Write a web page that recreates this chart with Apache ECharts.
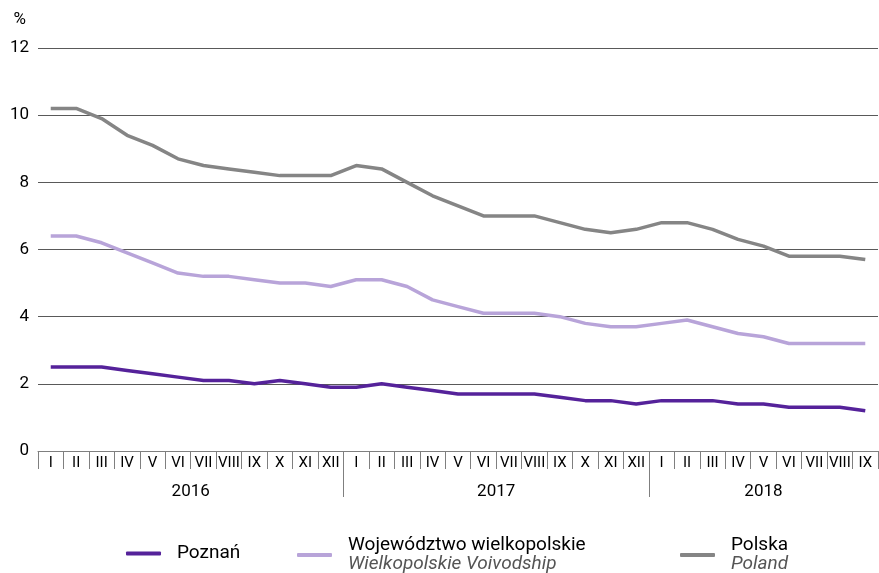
<!DOCTYPE html>
<html>
<head>
<meta charset="utf-8">
<script src="https://cdn.jsdelivr.net/npm/echarts@6/dist/echarts.min.js"></script>
<style>
  html, body { margin: 0; padding: 0; background: #fff; }
  #chart { width: 879px; height: 573px; }
</style>
</head>
<body>
<div id="chart"></div>
<script>
  // miesiące (I - XII) dla 2016, 2017 i 2018 (do IX)
  var roman = ['I', 'II', 'III', 'IV', 'V', 'VI', 'VII', 'VIII', 'IX', 'X', 'XI', 'XII'];
  var months = roman.concat(roman, roman.slice(0, 9));
  var years = ['2016', '2017', '2018'];
  var yearCenters = [6, 18, 28.5];
  var yearBreaks = [12, 24];

  var poznan = [2.5, 2.5, 2.5, 2.4, 2.3, 2.2, 2.1, 2.1, 2.0, 2.1, 2.0, 1.9,
    1.9, 2.0, 1.9, 1.8, 1.7, 1.7, 1.7, 1.7, 1.6, 1.5, 1.5, 1.4,
    1.5, 1.5, 1.5, 1.4, 1.4, 1.3, 1.3, 1.3, 1.2];
  var wielkopolskie = [6.4, 6.4, 6.2, 5.9, 5.6, 5.3, 5.2, 5.2, 5.1, 5.0, 5.0, 4.9,
    5.1, 5.1, 4.9, 4.5, 4.3, 4.1, 4.1, 4.1, 4.0, 3.8, 3.7, 3.7,
    3.8, 3.9, 3.7, 3.5, 3.4, 3.2, 3.2, 3.2, 3.2];
  var polska = [10.2, 10.2, 9.9, 9.4, 9.1, 8.7, 8.5, 8.4, 8.3, 8.2, 8.2, 8.2,
    8.5, 8.4, 8.0, 7.6, 7.3, 7.0, 7.0, 7.0, 6.8, 6.6, 6.5, 6.6,
    6.8, 6.8, 6.6, 6.3, 6.1, 5.8, 5.8, 5.8, 5.7];

  var englishNames = {
    'Województwo wielkopolskie': 'Wielkopolskie Voivodship',
    'Polska': 'Poland'
  };

  var font = 'Roboto';
  var myChart = echarts.init(document.getElementById('chart'));

  function legendAt(name, left, top) {
    return {
      data: [name],
      left: left,
      top: top,
      padding: 0,
      icon: 'roundRect',
      itemWidth: 35,
      itemHeight: 4,
      selectedMode: false,
      textStyle: {
        fontFamily: font,
        fontSize: 19,
        color: '#000',
        padding: [0, 0, 0, 11],
        lineHeight: 19,
        rich: {
          en: { fontFamily: font, fontSize: 19, fontStyle: 'italic', color: '#555', lineHeight: 19 }
        }
      },
      formatter: function (n) {
        return englishNames[n] ? n + '\n{en|' + englishNames[n] + '}' : n;
      }
    };
  }

  var lineSeries = function (name, data, color) {
    return {
      name: name,
      type: 'line',
      data: data,
      symbol: 'none',
      lineStyle: { color: color, width: 3.5 },
      itemStyle: { color: color }
    };
  };

  var option = {
    backgroundColor: '#fff',
    animation: false,
    textStyle: { fontFamily: font },
    grid: { left: 38, right: 1, top: 48, bottom: 122 },
    legend: [
      legendAt('Poznań', 126, 544),
      legendAt('Województwo wielkopolskie', 297, 536),
      legendAt('Polska', 680, 536)
    ],
    xAxis: [
      {
        type: 'category',
        data: months,
        boundaryGap: true,
        position: 'bottom',
        axisLine: { show: true, lineStyle: { color: '#7f7f7f', width: 1 } },
        axisTick: { show: true, interval: 0, length: 18, lineStyle: { color: '#7f7f7f' } },
        axisLabel: { interval: 0, margin: 5, fontSize: 15, color: '#000', fontFamily: font }
      },
      {
        // podpisy lat
        type: 'value',
        min: 0,
        max: 33,
        position: 'bottom',
        offset: 0,
        axisLine: { show: false },
        splitLine: { show: false },
        axisTick: { show: true, customValues: yearBreaks, length: 46, lineStyle: { color: '#7f7f7f' } },
        axisLabel: {
          customValues: yearCenters,
          margin: 32,
          fontSize: 17,
          color: '#000',
          fontFamily: font,
          formatter: function (v) {
            var i = yearCenters.indexOf(v);
            return i >= 0 ? years[i] : '';
          }
        }
      }
    ],
    yAxis: {
      type: 'value',
      min: 0,
      max: 12,
      interval: 2,
      name: '%',
      nameLocation: 'end',
      nameGap: 20,
      nameTextStyle: { fontSize: 17, color: '#000', fontFamily: font, align: 'right', padding: [0, 12, 0, 0] },
      axisLine: { show: false },
      axisTick: { show: false },
      axisLabel: { fontSize: 17, color: '#000', margin: 9, fontFamily: font },
      splitLine: { show: true, lineStyle: { color: '#595959', width: 1 } }
    },
    series: [
      lineSeries('Poznań', poznan, '#55229a'),
      lineSeries('Województwo wielkopolskie', wielkopolskie, '#b8a4d9'),
      lineSeries('Polska', polska, '#858585')
    ]
  };

  myChart.setOption(option);
  window.addEventListener('resize', function () { myChart.resize() });
</script>
</body>
</html>
